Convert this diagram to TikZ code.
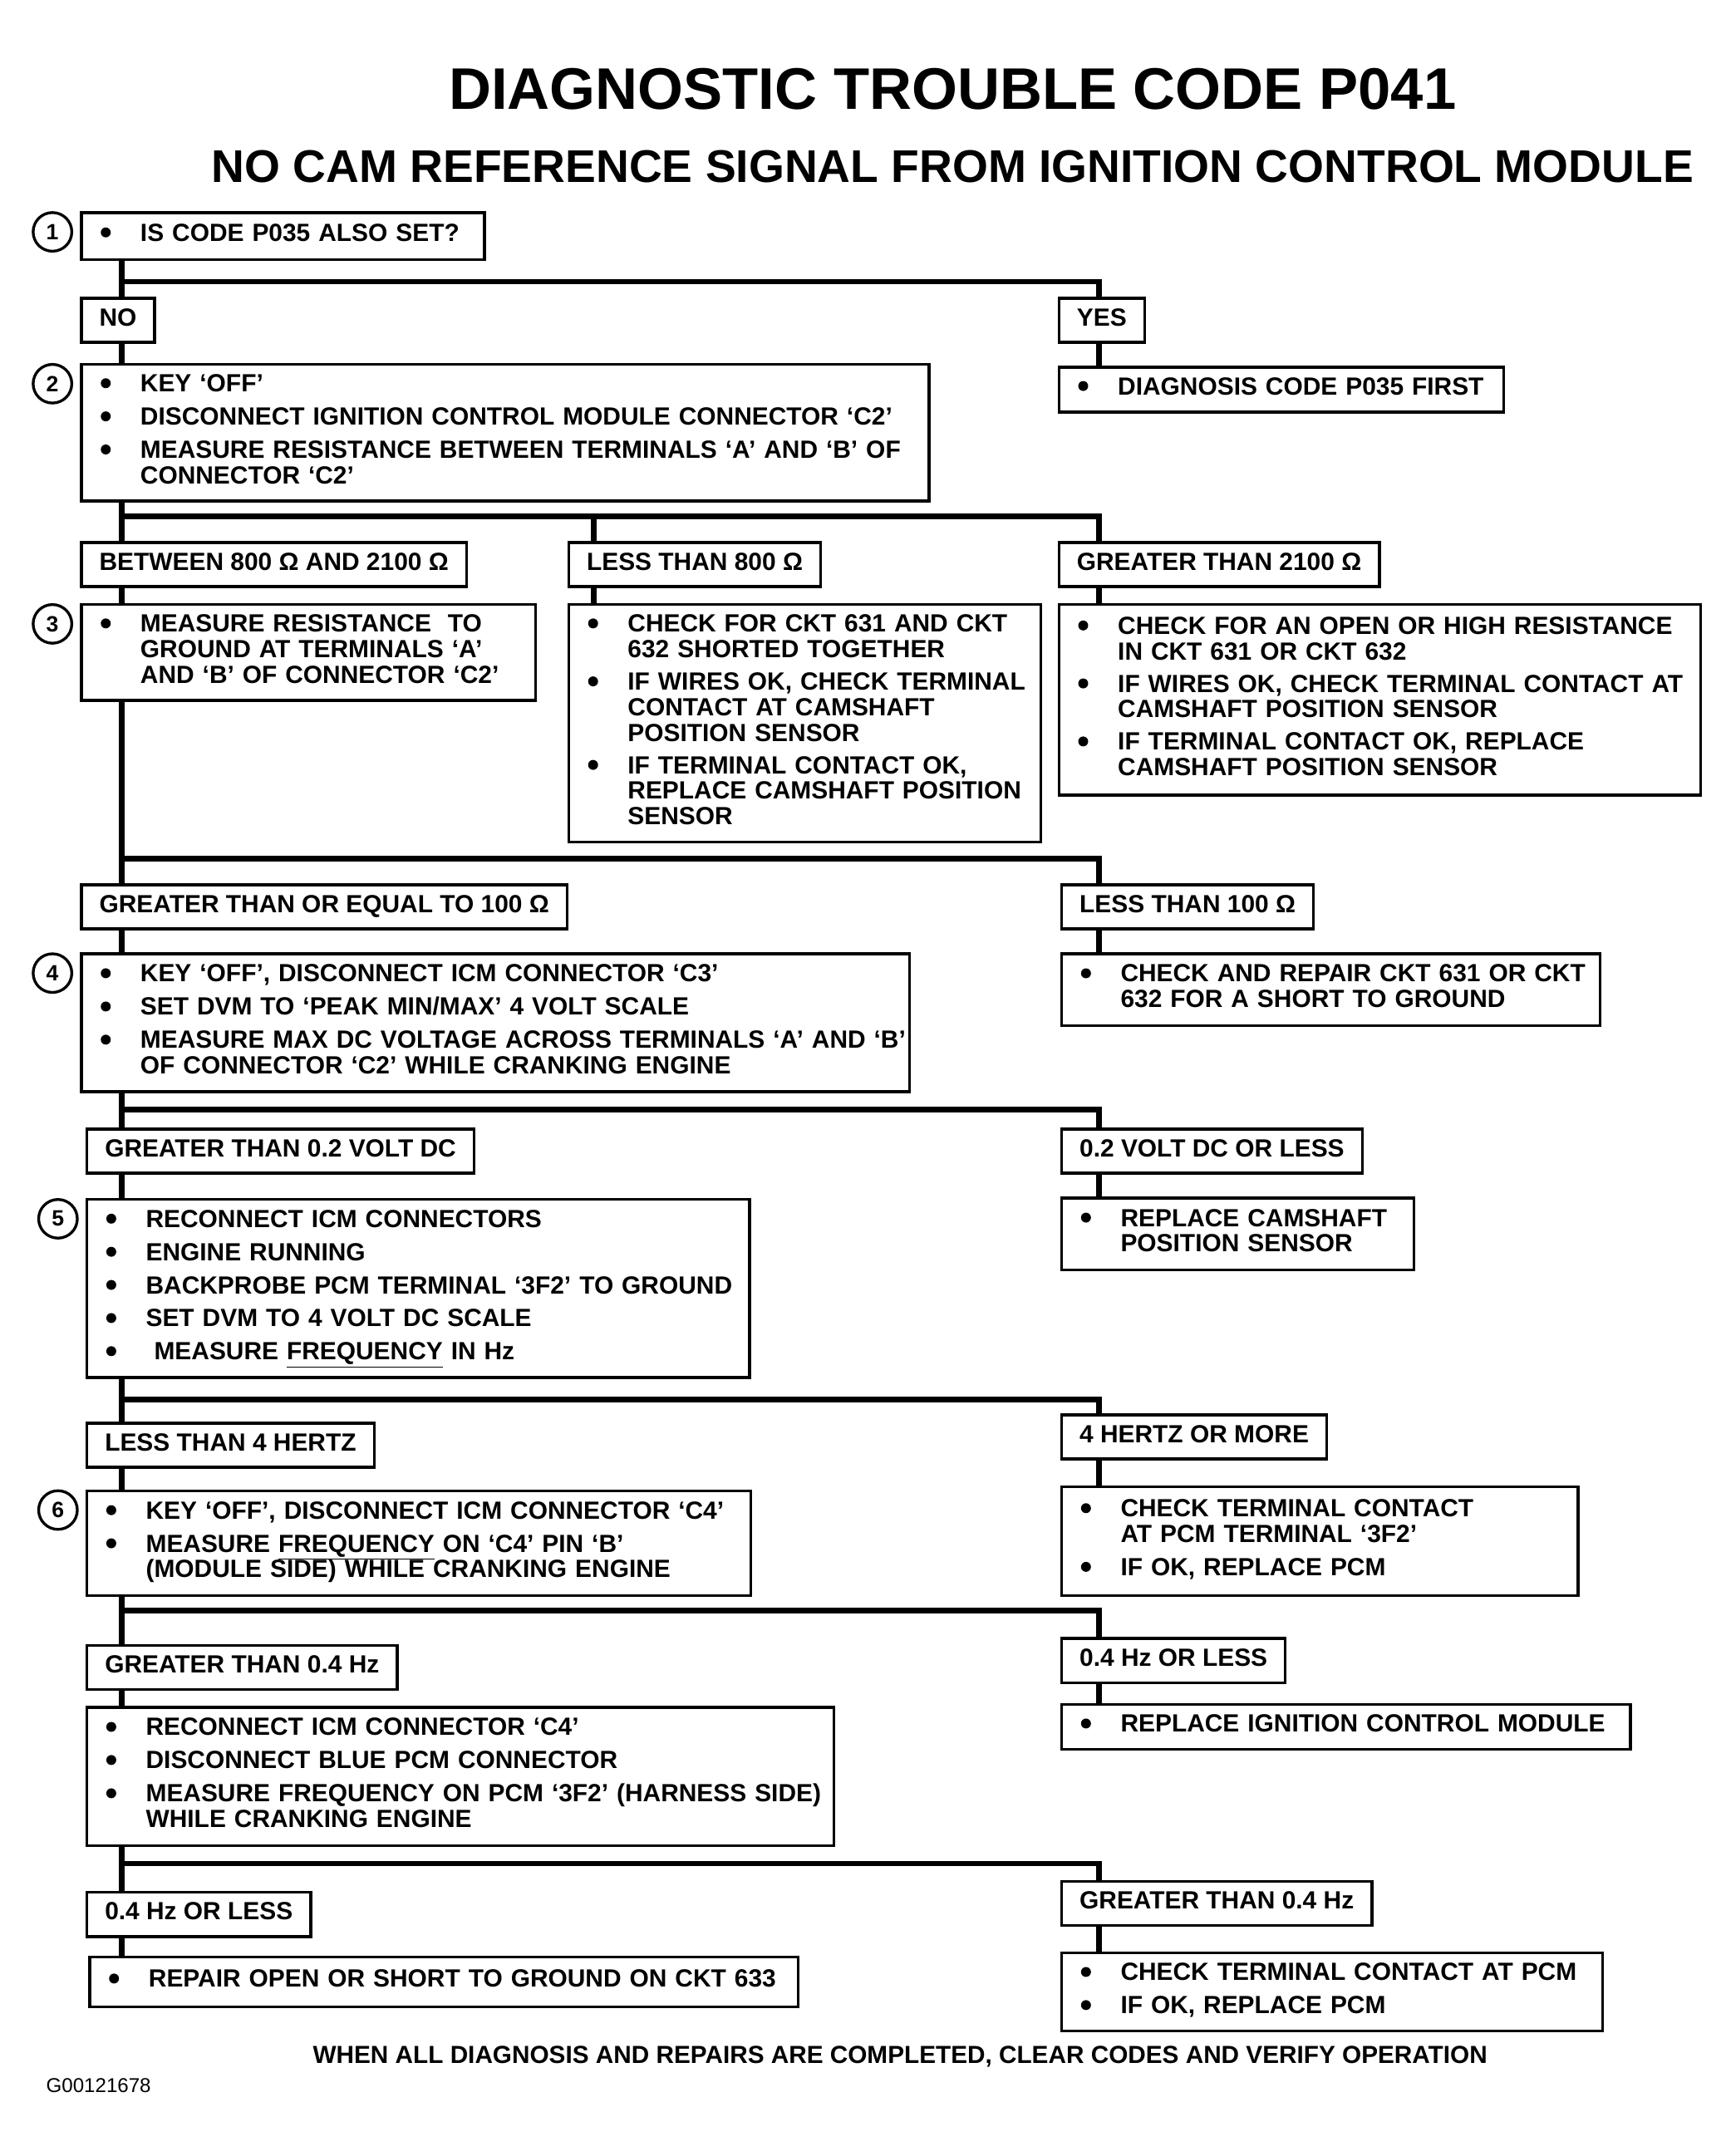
\documentclass[tikz,border=0pt]{standalone}
\usepackage{fontspec}
\setmainfont{Liberation Sans}
\usetikzlibrary{positioning,calc}

\newcommand{\betu}{\fontsize{18}{18.5}\selectfont\bfseries}
\newcommand{\bl}{\tikz[baseline=-6.3pt]\fill (0,0) circle (3.6pt);}
\newcommand{\lista}[1]{\begin{tabular}{@{\hspace{14pt}}l@{\hspace{21.5pt}}l@{}}#1\end{tabular}}

\tikzset{
  doboz/.style={draw,line width=2pt,anchor=north west,inner xsep=0pt,inner ysep=7pt,align=left,font=\betu},
  felirat/.style={draw,line width=2pt,anchor=north west,inner xsep=13pt,inner ysep=7pt,text height=13pt,text depth=5pt,font=\betu},
  szam/.style={draw,circle,line width=2pt,minimum size=28pt,inner sep=0pt,font=\fontsize{16}{16}\selectfont\bfseries,xshift=-20pt,yshift=-15pt},
  vonal/.style={line width=4pt}
}

\begin{document}
\begin{tikzpicture}[x=1pt,y=1pt]

  \useasboundingbox (0,0) rectangle (1250,-1562);

  \coordinate (gerinc) at (88,0); % bal oldali fo vonal
  \coordinate (kozep) at (430,0);
  \coordinate (jobb) at (796,0);

  \node[anchor=base] (cim) at (690,-79) {\fontsize{42.5}{44}\selectfont\bfseries DIAGNOSTIC TROUBLE CODE P041};
  \node[anchor=base] (alcim) at (690,-132) {\fontsize{33.2}{36}\selectfont\bfseries NO CAM REFERENCE SIGNAL FROM IGNITION CONTROL MODULE};

  % 1. lepes
  \node[doboz,text width=292pt,minimum height=34pt] (q1) at (58,-153) {\lista{\bl & IS CODE P035 ALSO SET?}};
  \node[szam] (n1) at (q1.north west) {1};
  \node[felirat] (no) at (58,-215) {NO};
  \node[felirat] (yes) at (766,-215) {YES};
  \node[doboz,text width=322pt,minimum height=32pt] (p035) at (766,-265) {\lista{\bl & DIAGNOSIS CODE P035 FIRST}};

  % 2. lepes
  \node[doboz,text width=614pt,minimum height=98pt] (q2) at (58,-263) {\lista{
    \bl & KEY ‘OFF’\\[5.5pt]
    \bl & DISCONNECT IGNITION CONTROL MODULE CONNECTOR ‘C2’\\[5.5pt]
    \bl & MEASURE RESISTANCE BETWEEN TERMINALS ‘A’ AND ‘B’ OF\\
        & CONNECTOR ‘C2’}};
  \node[szam] (n2) at (q2.north west) {2};
  \node[felirat] (btw) at (58,-392) {BETWEEN 800 Ω AND 2100 Ω};
  \node[felirat] (l800) at (411,-392) {LESS THAN 800 Ω};
  \node[felirat] (g2100) at (766,-392) {GREATER THAN 2100 Ω};

  % 3. lepes
  \node[doboz,text width=329pt,minimum height=69pt] (q3) at (58,-437) {\lista{
    \bl & MEASURE RESISTANCE \ TO\\
        & GROUND AT TERMINALS ‘A’\\
        & AND ‘B’ OF CONNECTOR ‘C2’}};
  \node[szam] (n3) at (q3.north west) {3};
  \node[doboz,text width=342pt,minimum height=171pt] (r800) at (411,-437) {\lista{
    \bl & CHECK FOR CKT 631 AND CKT\\
        & 632 SHORTED TOGETHER\\[5pt]
    \bl & IF WIRES OK, CHECK TERMINAL\\
        & CONTACT AT CAMSHAFT\\
        & POSITION SENSOR\\[5pt]
    \bl & IF TERMINAL CONTACT OK,\\
        & REPLACE CAMSHAFT POSITION\\
        & SENSOR}};
  \node[doboz,text width=465pt,minimum height=138pt] (r2100) at (766,-437) {\lista{
    \bl & CHECK FOR AN OPEN OR HIGH RESISTANCE\\
        & IN CKT 631 OR CKT 632\\[5pt]
    \bl & IF WIRES OK, CHECK TERMINAL CONTACT AT\\
        & CAMSHAFT POSITION SENSOR\\[5pt]
    \bl & IF TERMINAL CONTACT OK, REPLACE\\
        & CAMSHAFT POSITION SENSOR}};
  \node[felirat] (ge100) at (58,-640) {GREATER THAN OR EQUAL TO 100 Ω};
  \node[felirat] (l100) at (768,-640) {LESS THAN 100 Ω};

  % 4. lepes
  \node[doboz,text width=600pt,minimum height=100pt] (q4) at (58,-690) {\lista{
    \bl & KEY ‘OFF’, DISCONNECT ICM CONNECTOR ‘C3’\\[5.5pt]
    \bl & SET DVM TO ‘PEAK MIN/MAX’ 4 VOLT SCALE\\[5.5pt]
    \bl & MEASURE MAX DC VOLTAGE ACROSS TERMINALS ‘A’ AND ‘B’\\
        & OF CONNECTOR ‘C2’ WHILE CRANKING ENGINE}};
  \node[szam] (n4) at (q4.north west) {4};
  \node[doboz,text width=390pt,minimum height=52pt] (r100) at (768,-690) {\lista{
    \bl & CHECK AND REPAIR CKT 631 OR CKT\\
        & 632 FOR A SHORT TO GROUND}};
  \node[felirat] (gt02) at (62,-817) {GREATER THAN 0.2 VOLT DC};
  \node[felirat] (le02) at (768,-817) {0.2 VOLT DC OR LESS};

  % 5. lepes
  \node[doboz,text width=480pt,minimum height=129pt] (q5) at (62,-868) {\lista{
    \bl & RECONNECT ICM CONNECTORS\\[5.5pt]
    \bl & ENGINE RUNNING\\[5.5pt]
    \bl & BACKPROBE PCM TERMINAL ‘3F2’ TO GROUND\\[5.5pt]
    \bl & SET DVM TO 4 VOLT DC SCALE\\[5.5pt]
    \bl & \hspace{6pt}MEASURE \underline{FREQUENCY} IN Hz}};
  \node[szam] (n5) at (q5.north west) {5};
  \node[doboz,text width=255pt,minimum height=52pt] (rcam) at (768,-867) {\lista{
    \bl & REPLACE CAMSHAFT\\
        & POSITION SENSOR}};
  \node[felirat] (lt4) at (62,-1030) {LESS THAN 4 HERTZ};
  \node[felirat] (ge4) at (768,-1024) {4 HERTZ OR MORE};

  % 6. lepes
  \node[doboz,text width=481pt,minimum height=76pt] (q6) at (62,-1079) {\lista{
    \bl & KEY ‘OFF’, DISCONNECT ICM CONNECTOR ‘C4’\\[5.5pt]
    \bl & MEASURE \underline{FREQUENCY} ON ‘C4’ PIN ‘B’\\
        & (MODULE SIDE) WHILE CRANKING ENGINE}};
  \node[szam] (n6) at (q6.north west) {6};
  \node[doboz,text width=374pt,minimum height=79pt] (r4) at (768,-1076) {\lista{
    \bl & CHECK TERMINAL CONTACT\\
        & AT PCM TERMINAL ‘3F2’\\[5.5pt]
    \bl & IF OK, REPLACE PCM}};
  \node[felirat] (gt04) at (62,-1191) {GREATER THAN 0.4 Hz};
  \node[felirat] (le04) at (768,-1186) {0.4 Hz OR LESS};

  % 7. lepes
  \node[doboz,text width=541pt,minimum height=100pt] (q7) at (62,-1236) {\lista{
    \bl & RECONNECT ICM CONNECTOR ‘C4’\\[5.5pt]
    \bl & DISCONNECT BLUE PCM CONNECTOR\\[5.5pt]
    \bl & MEASURE FREQUENCY ON PCM ‘3F2’ (HARNESS SIDE)\\
        & WHILE CRANKING ENGINE}};
  \node[doboz,text width=412pt,minimum height=32pt] (ricm) at (768,-1234) {\lista{\bl & REPLACE IGNITION CONTROL MODULE}};
  \node[felirat] (le04b) at (62,-1370) {0.4 Hz OR LESS};
  \node[felirat] (gt04b) at (768,-1362) {GREATER THAN 0.4 Hz};
  \node[doboz,text width=513pt,minimum height=36pt] (rrep) at (64,-1417) {\lista{\bl & REPAIR OPEN OR SHORT TO GROUND ON CKT 633}};
  \node[doboz,text width=392pt,minimum height=56pt] (rpcm) at (768,-1414) {\lista{
    \bl & CHECK TERMINAL CONTACT AT PCM\\[5.5pt]
    \bl & IF OK, REPLACE PCM}};

  \node[anchor=base] (zaro) at (652,-1495) {\fontsize{17.9}{20}\selectfont\bfseries WHEN ALL DIAGNOSIS AND REPAIRS ARE COMPLETED, CLEAR CODES AND VERIFY OPERATION};
  \node[anchor=base west] (kod) at (30,-1516) {\fontsize{14.5}{16}\selectfont G00121678};

  % fo vonal
  \draw[vonal] (q1.south -| gerinc) -- (no.north -| gerinc);
  \draw[vonal] (no.south -| gerinc) -- (q2.north -| gerinc);
  \draw[vonal] (q2.south -| gerinc) -- (btw.north -| gerinc);
  \draw[vonal] (btw.south -| gerinc) -- (q3.north -| gerinc);
  \draw[vonal] (q3.south -| gerinc) -- (ge100.north -| gerinc);
  \draw[vonal] (ge100.south -| gerinc) -- (q4.north -| gerinc);
  \draw[vonal] (q4.south -| gerinc) -- (gt02.north -| gerinc);
  \draw[vonal] (gt02.south -| gerinc) -- (q5.north -| gerinc);
  \draw[vonal] (q5.south -| gerinc) -- (lt4.north -| gerinc);
  \draw[vonal] (lt4.south -| gerinc) -- (q6.north -| gerinc);
  \draw[vonal] (q6.south -| gerinc) -- (gt04.north -| gerinc);
  \draw[vonal] (gt04.south -| gerinc) -- (q7.north -| gerinc);
  \draw[vonal] (q7.south -| gerinc) -- (le04b.north -| gerinc);
  \draw[vonal] (le04b.south -| gerinc) -- (rrep.north -| gerinc);

  % elagazasok
  \draw[vonal] (gerinc |- 0,-204) -| (yes.north -| jobb);
  \draw[vonal] (gerinc |- 0,-374) -| (g2100.north -| jobb);
  \draw[vonal] (kozep |- 0,-374) -- (l800.north -| kozep);
  \draw[vonal] (gerinc |- 0,-622) -| (l100.north -| jobb);
  \draw[vonal] (gerinc |- 0,-804) -| (le02.north -| jobb);
  \draw[vonal] (gerinc |- 0,-1014) -| (ge4.north -| jobb);
  \draw[vonal] (gerinc |- 0,-1167) -| (le04.north -| jobb);
  \draw[vonal] (gerinc |- 0,-1350) -| (gt04b.north -| jobb);

  % jobb oldal
  \draw[vonal] (yes.south -| jobb) -- (p035.north -| jobb);
  \draw[vonal] (l800.south -| kozep) -- (r800.north -| kozep);
  \draw[vonal] (g2100.south -| jobb) -- (r2100.north -| jobb);
  \draw[vonal] (l100.south -| jobb) -- (r100.north -| jobb);
  \draw[vonal] (le02.south -| jobb) -- (rcam.north -| jobb);
  \draw[vonal] (ge4.south -| jobb) -- (r4.north -| jobb);
  \draw[vonal] (le04.south -| jobb) -- (ricm.north -| jobb);
  \draw[vonal] (gt04b.south -| jobb) -- (rpcm.north -| jobb);

\end{tikzpicture}
\end{document}
